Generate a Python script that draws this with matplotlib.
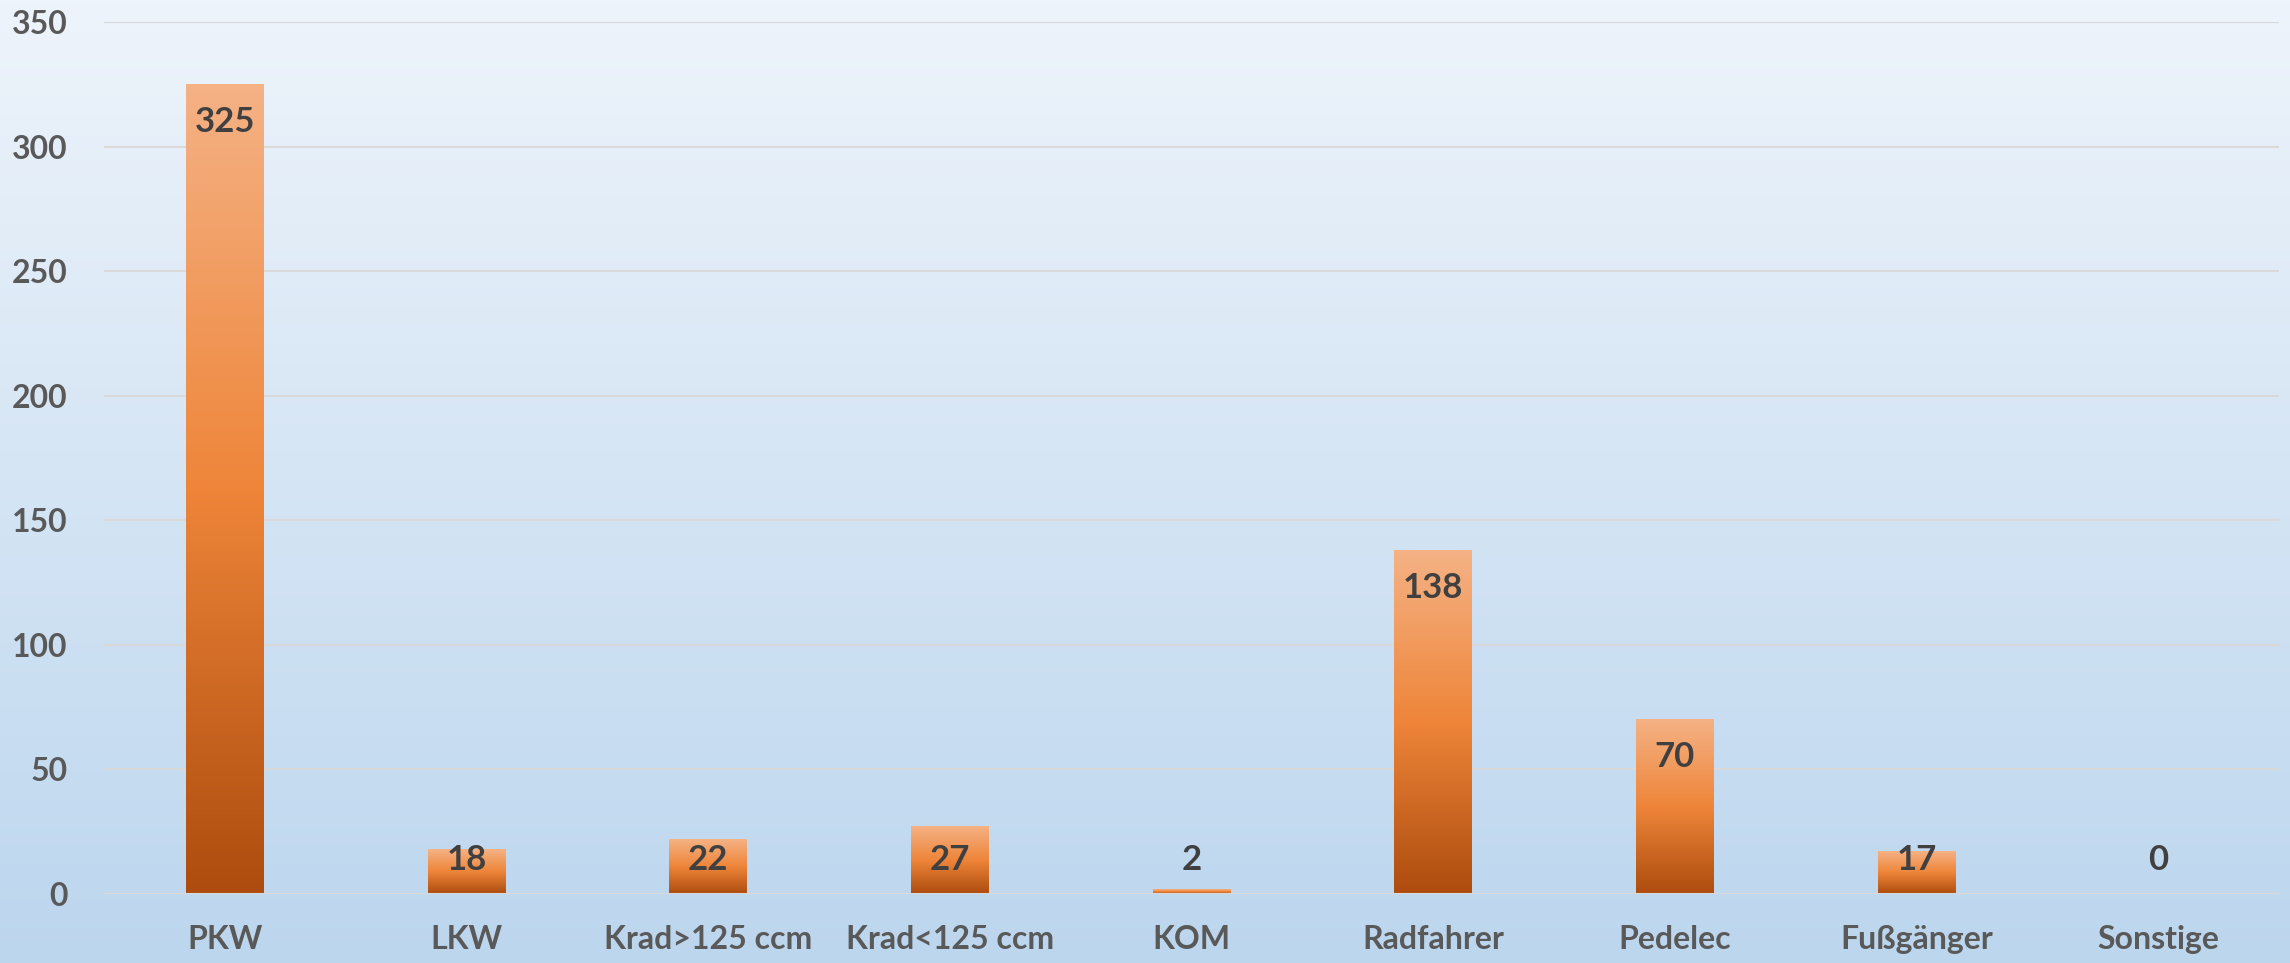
import numpy as np
import matplotlib.pyplot as plt
from matplotlib.colors import LinearSegmentedColormap

categories = ['PKW', 'LKW', 'Krad>125 ccm', 'Krad<125 ccm', 'KOM',
              'Radfahrer', 'Pedelec', 'Fußgänger', 'Sonstige']
values = [325, 18, 22, 27, 2, 138, 70, 17, 0]
yticks = [0, 50, 100, 150, 200, 250, 300, 350]

plt.rcParams['font.family'] = ['Lato', 'DejaVu Sans']

fig = plt.figure(figsize=(22.9, 9.63), dpi=100)

# background gradient over the whole figure
bg = fig.add_axes([0, 0, 1, 1], zorder=-10)
bg_cmap = LinearSegmentedColormap.from_list('bg', ['#bcd6ee', '#eef4fb'])
bg.imshow(np.linspace(0, 1, 256).reshape(-1, 1), aspect='auto', cmap=bg_cmap,
          origin='lower', extent=(0, 1, 0, 1))
bg.axis('off')

ax = fig.add_axes([0.0454, 0.0717, 0.9498, 0.9055])
ax.patch.set_alpha(0)

bar_cmap = LinearSegmentedColormap.from_list(
    'bar', [(0, '#ad4c0e'), (0.5, '#ee8539'), (1, '#f5b285')])
grad = np.linspace(0, 1, 256).reshape(-1, 1)
width = 0.32
x = np.arange(len(categories))

bars = ax.bar(x, values, width=width, color='none', zorder=3)
for rect, v in zip(bars, values):
    if v <= 0:
        continue
    x0 = rect.get_x()
    ax.imshow(grad, aspect='auto', cmap=bar_cmap, origin='lower',
              extent=(x0, x0 + rect.get_width(), 0, v), zorder=3)

for xi, v in zip(x, values):
    ax.text(xi, max(v - 15, 13.7), str(v), ha='center', va='center',
            fontsize=25, fontweight='bold', color='#404040', zorder=5)

ax.set_xlim(-0.5, len(categories) - 0.5)
ax.set_ylim(0, 350)
ax.set_yticks(yticks)
ax.set_xticks(x)
ax.set_xticklabels(categories)
ax.grid(axis='y', color='#d9d9d9', linewidth=1.5, zorder=0)
ax.set_axisbelow(True)
for s in ax.spines.values():
    s.set_visible(False)
ax.axhline(0, color='#d9d9d9', linewidth=1.5, zorder=4)
ax.tick_params(axis='both', length=0, labelsize=23, labelcolor='#595959')
ax.tick_params(axis='y', pad=26)
ax.tick_params(axis='x', pad=22)
for lbl in ax.get_xticklabels() + ax.get_yticklabels():
    lbl.set_fontweight('bold')

fig.savefig('out.png', dpi=100)
